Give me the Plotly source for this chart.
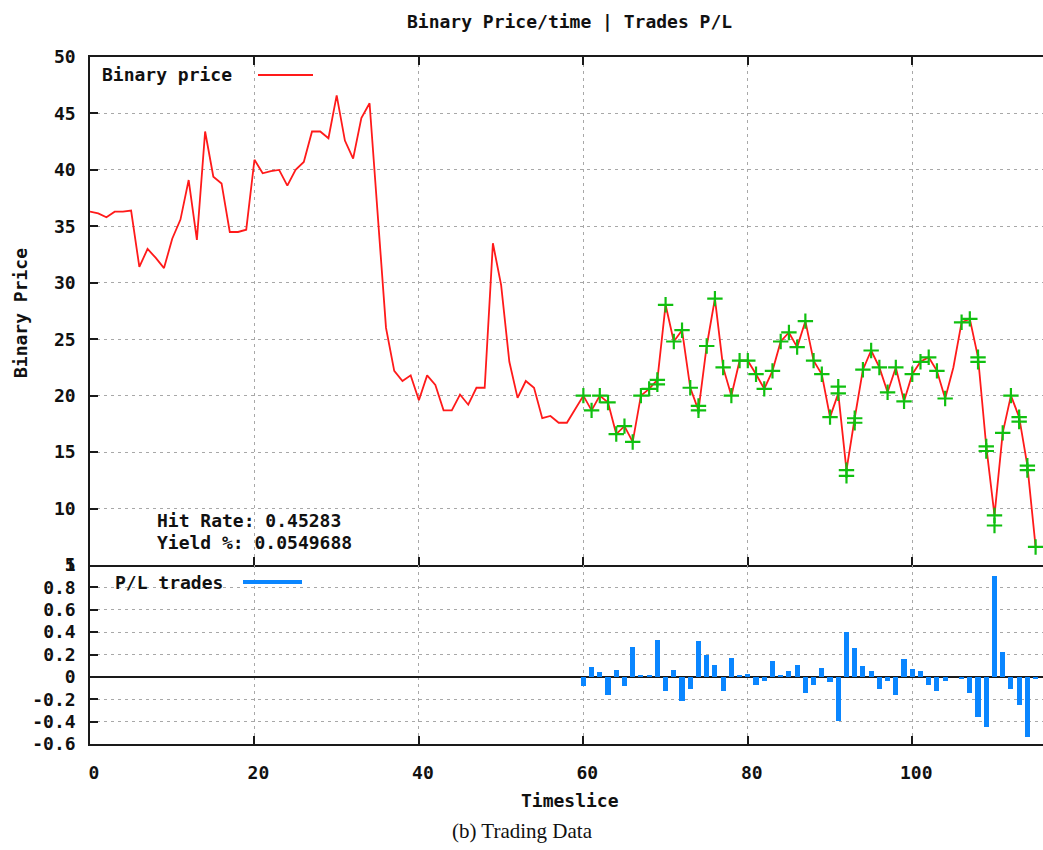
import plotly.graph_objects as go

# Binary price per timeslice
timeslice = list(range(0, 117))
binary_price = [
    36.3, 36.15, 35.8, 36.3, 36.3, 36.4, 31.4, 33.0, 32.2, 31.3,
    33.9, 35.6, 39.1, 33.8, 43.4, 39.4, 38.8, 34.5, 34.5, 34.7,
    40.9, 39.7, 39.9, 40.0, 38.6, 40.0, 40.7, 43.4, 43.4, 42.8,
    46.6, 42.6, 41.0, 44.6, 45.9, 36.3, 26.0, 22.2, 21.3, 21.8,
    19.6, 21.8, 20.95, 18.7, 18.7, 20.1, 19.2, 20.7, 20.7, 33.5,
    29.8, 23.0, 19.8, 21.3, 20.7, 18.0, 18.2, 17.6, 17.6, 18.8,
    20.0, 18.7, 20.0, 19.4, 16.6, 17.3, 15.9, 20.0, 20.6, 21.4,
    28.05, 24.8, 25.8, 20.7, 18.7, 24.4, 28.6, 22.5, 20.0, 23.1,
    23.1, 21.9, 20.6, 22.2, 24.8, 25.6, 24.3, 26.6, 23.1, 21.9,
    18.1, 20.2, 13.4, 18.0, 22.3, 24.0, 22.5, 20.3, 22.5, 19.5,
    21.9, 23.0, 23.4, 22.2, 19.75, 22.5, 26.5, 26.8, 23.4, 15.5,
    9.4, 16.7, 20.0, 18.1, 13.8, 6.6, 6.6,
]

# Timeslices where a trade was taken
trade_slices = [s for s in range(60, 116) if s != 105]

# Secondary trade marks (entries/exits sitting slightly apart)
extra_trade_slices = [69, 74, 91, 92, 93, 108, 109, 110, 113, 114]
extra_trade_prices = [21.0, 19.1, 20.8, 12.9, 17.6, 23.0, 15.1, 8.5, 17.7, 13.4]

# Profit / loss of each trade
pl_slices = list(range(60, 116))
pl_values = [
    -0.08, 0.09, 0.04, -0.16, 0.06, -0.08, 0.27, 0.02, 0.02, 0.33,
    -0.13, 0.06, -0.22, -0.11, 0.32, 0.20, 0.11, -0.13, 0.17, 0.02,
    0.03, -0.07, -0.04, 0.14, 0.02, 0.05, 0.11, -0.14, -0.07, 0.08,
    -0.05, -0.39, 0.40, 0.26, 0.10, 0.05, -0.11, -0.04, -0.16, 0.16,
    0.07, 0.05, -0.07, -0.13, -0.04, None, -0.02, -0.14, -0.36, -0.45,
    0.90, 0.22, -0.11, -0.25, -0.54, -0.02,
]

price_ticks = [5, 10, 15, 20, 25, 30, 35, 40, 45, 50]
pl_ticks = [-0.6, -0.4, -0.2, 0, 0.2, 0.4, 0.6, 0.8, 1]
pl_tick_text = ["-0.6", "-0.4", "-0.2", "0", "0.2", "0.4", "0.6", "0.8", "1"]
time_ticks = [0, 20, 40, 60, 80, 100]

hit_rate = "0.45283"
yield_pct = "0.0549688"

MONO = "DejaVu Sans Mono"
FRAME = "#1a1a1a"
GRID = "#a8a8a8"
RED = "#ff1a1a"
GREEN = "#10c010"
BLUE = "#0a86ff"

W, H = 1043, 850
ML, MR, MT, MB = 90, 0, 57, 106
split = (744 - 565) / (H - MT - MB)


def px_x(px):
    return (px - ML) / (W - ML - MR)


def px_y(py):
    return (H - MB - py) / (H - MT - MB)


price_by_slice = dict(zip(timeslice, binary_price))
trade_prices = [price_by_slice[s] for s in trade_slices]

fig = go.Figure()

fig.add_trace(go.Scatter(
    x=timeslice, y=binary_price, mode="lines",
    line=dict(color=RED, width=1.8), xaxis="x", yaxis="y",
    hoverinfo="skip",
))
cross = dict(symbol="cross-thin", size=11, line=dict(color=GREEN, width=2.2))
fig.add_trace(go.Scatter(
    x=trade_slices, y=trade_prices, mode="markers", marker=cross,
    xaxis="x", yaxis="y",
))
fig.add_trace(go.Scatter(
    x=extra_trade_slices, y=extra_trade_prices, mode="markers", marker=cross,
    xaxis="x", yaxis="y",
))
fig.add_trace(go.Bar(
    x=pl_slices, y=pl_values, width=0.62,
    marker=dict(color=BLUE, line=dict(width=0)),
    xaxis="x2", yaxis="y2",
))

tick_font = dict(family=MONO, size=18, color="#111111", weight="bold")
xrange = [0, 115.9]

common_x = dict(
    range=xrange, tickvals=time_ticks, ticks="inside", ticklen=8,
    tickwidth=1.5, tickcolor=FRAME, showline=True, linecolor=FRAME,
    linewidth=1.5, showgrid=True, gridcolor=GRID,
    gridwidth=1, griddash="3px,4px", zeroline=False,
)

fig.update_layout(
    width=W, height=H,
    margin=dict(l=ML, r=MR, t=MT, b=MB),
    paper_bgcolor="white", plot_bgcolor="white",
    showlegend=False, bargap=0,
    xaxis=dict(common_x, anchor="y", domain=[0, 1], mirror="ticks",
               showticklabels=False),
    yaxis=dict(
        domain=[split, 1], range=[5, 50], tickvals=price_ticks,
        ticks="inside", ticklen=8, tickwidth=1.5, tickcolor=FRAME,
        showline=True, linecolor=FRAME, linewidth=1.5, mirror=False,
        showgrid=True, gridcolor=GRID, gridwidth=1, griddash="3px,4px",
        zeroline=False, tickfont=tick_font, ticklabelstandoff=9,
    ),
    xaxis2=dict(common_x, anchor="y2", domain=[0, 1], matches="x",
                mirror=False, showticklabels=True, tickfont=tick_font,
                ticklabelstandoff=12, ticklabelshift=4),
    yaxis2=dict(
        domain=[0, split], range=[-0.6, 1.0], tickvals=pl_ticks,
        ticktext=pl_tick_text, ticks="inside", ticklen=8, tickwidth=1.5,
        tickcolor=FRAME, showline=True, linecolor=FRAME, linewidth=1.5,
        mirror=False, showgrid=True, gridcolor=GRID, gridwidth=1,
        griddash="3px,4px", zeroline=True, zerolinecolor=FRAME,
        zerolinewidth=1.5, tickfont=tick_font, ticklabelstandoff=9,
    ),
)

label_font = dict(family=MONO, size=18, color="#111111", weight="bold")

annotations = [
    dict(text="Binary Price/time | Trades P/L", x=px_x(569), y=px_y(22),
         xanchor="center", yanchor="middle"),
    dict(text="Timeslice", x=px_x(570), y=px_y(800),
         xanchor="center", yanchor="middle"),
    dict(text="Binary Price", x=px_x(20), y=px_y(313), textangle=-90,
         xanchor="center", yanchor="middle"),
    dict(text="Binary price", x=px_x(100), y=px_y(75),
         xanchor="left", yanchor="middle"),
    dict(text="P/L trades", x=px_x(113), y=px_y(582),
         xanchor="left", yanchor="middle"),
    dict(text=f"Hit Rate: {hit_rate}", x=px_x(155), y=px_y(520),
         xanchor="left", yanchor="middle"),
    dict(text=f"Yield %: {yield_pct}", x=px_x(155), y=px_y(542),
         xanchor="left", yanchor="middle"),
]
for a in annotations:
    a.update(xref="paper", yref="paper", showarrow=False, font=label_font)
    fig.add_annotation(**a)

fig.add_annotation(
    text="(b) Trading Data", x=px_x(522), y=px_y(831), xref="paper",
    yref="paper", showarrow=False, xanchor="center", yanchor="middle",
    font=dict(family="Liberation Serif", size=21, color="#111111"),
)

# Legend samples
fig.add_shape(type="line", xref="paper", yref="paper",
              x0=px_x(258), x1=px_x(313), y0=px_y(75), y1=px_y(75),
              line=dict(color=RED, width=1.8))
fig.add_shape(type="line", xref="paper", yref="paper",
              x0=px_x(243), x1=px_x(302), y0=px_y(582), y1=px_y(582),
              line=dict(color=BLUE, width=4))

fig.write_html("out.html")
